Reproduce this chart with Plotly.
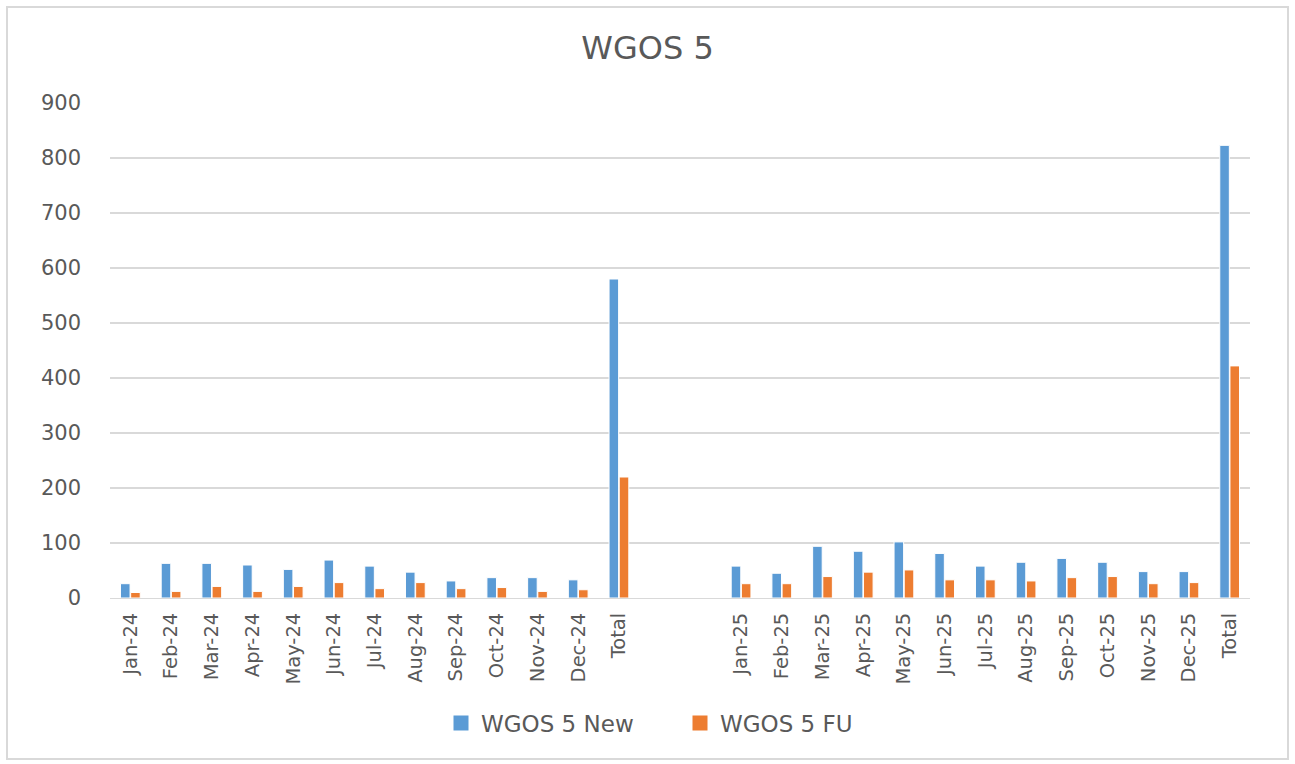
import plotly.graph_objects as go

categories = ["Jan-24", "Feb-24", "Mar-24", "Apr-24", "May-24", "Jun-24", "Jul-24",
              "Aug-24", "Sep-24", "Oct-24", "Nov-24", "Dec-24", "Total",
              " ", "  ",
              "Jan-25", "Feb-25", "Mar-25", "Apr-25", "May-25", "Jun-25", "Jul-25",
              "Aug-25", "Sep-25", "Oct-25", "Nov-25", "Dec-25", "Total "]

tick_labels = ["Jan-24", "Feb-24", "Mar-24", "Apr-24", "May-24", "Jun-24", "Jul-24",
               "Aug-24", "Sep-24", "Oct-24", "Nov-24", "Dec-24", "Total",
               "", "",
               "Jan-25", "Feb-25", "Mar-25", "Apr-25", "May-25", "Jun-25", "Jul-25",
               "Aug-25", "Sep-25", "Oct-25", "Nov-25", "Dec-25", "Total"]

wgos_new = [26, 63, 63, 60, 52, 69, 58, 47, 31, 37, 37, 33, 580,
            None, None,
            58, 45, 94, 85, 102, 81, 58, 65, 72, 65, 48, 48, 823]

wgos_fu = [10, 12, 21, 12, 21, 28, 17, 28, 17, 19, 12, 15, 220,
           None, None,
           26, 26, 39, 47, 51, 33, 33, 31, 37, 39, 26, 28, 422]

y_ticks = [0, 100, 200, 300, 400, 500, 600, 700, 800, 900]

series_names = ["WGOS 5 New", "WGOS 5 FU"]
series_colors = ["#5B9BD5", "#ED7D31"]

FONT = "DejaVu Sans"
GRAY = "#595959"

fig = go.Figure()
for vals, name, color in zip([wgos_new, wgos_fu], series_names, series_colors):
    fig.add_trace(go.Bar(x=categories, y=vals, name=name, showlegend=False,
                         marker=dict(color=color, line=dict(color="white", width=1))))
# legend entries with square keys
for name, color in zip(series_names, series_colors):
    fig.add_trace(go.Scatter(x=[None], y=[None], mode="markers", name=name,
                             marker=dict(symbol="square", size=15, color=color)))

L, R, T, B = 110, 45, 103, 166
W, H = 1295, 764
pw = W - L - R
ph = H - T - B

fig.update_layout(
    width=W, height=H,
    margin=dict(l=L, r=R, t=T, b=B),
    paper_bgcolor="white", plot_bgcolor="white",
    barmode="group", bargap=0.5, bargroupgap=0.06,
    title=dict(text="WGOS 5", x=0.5, xanchor="center", y=1 - 48 / H, yanchor="middle",
               font=dict(family=FONT, size=32, color=GRAY)),
    font=dict(family=FONT, color=GRAY),
    legend=dict(orientation="h", x=0.5, xanchor="center", y=(H - B - 723) / ph, yanchor="middle",
                font=dict(family=FONT, size=23, color=GRAY), itemwidth=30,
                entrywidth=194, traceorder="normal"),
    showlegend=True,
)

fig.update_xaxes(
    type="category", categoryorder="array", categoryarray=categories,
    tickmode="array", tickvals=categories, ticktext=tick_labels,
    tickangle=-90, tickfont=dict(family=FONT, size=19.5, color=GRAY),
    showgrid=False, showline=True, linecolor="#d9d9d9", linewidth=1,
    ticks="", ticklabelstandoff=6,
)
fig.update_yaxes(
    range=[0, 900], tickvals=y_ticks, tickfont=dict(family=FONT, size=21, color=GRAY),
    showgrid=True, gridcolor="#d9d9d9", gridwidth=1.5, zeroline=False,
    showline=False, ticks="", ticklabelstandoff=28,
)

# chart-area border
fig.add_shape(type="rect", xref="paper", yref="paper",
              x0=(7 - L) / pw, x1=(1288 - L) / pw,
              y0=(H - B - 759) / ph, y1=(H - B - 7) / ph,
              line=dict(color="#d9d9d9", width=2), fillcolor="rgba(0,0,0,0)", layer="below")

fig.write_html("out.html", config={"displayModeBar": False},
               post_script="document.body.style.margin='0';")
